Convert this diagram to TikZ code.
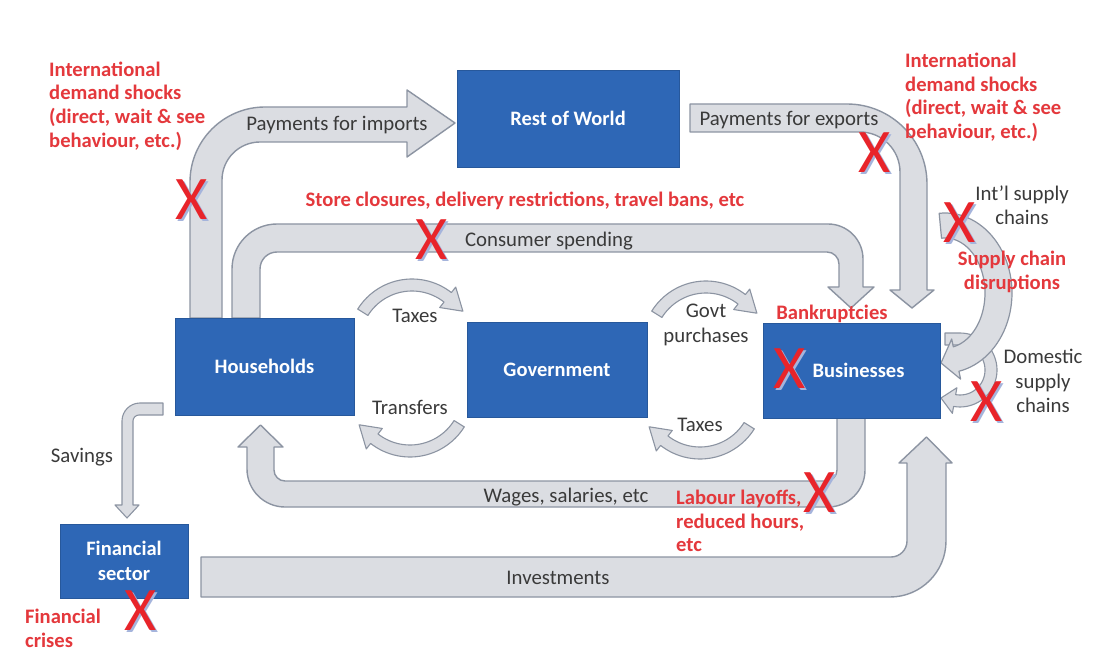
\documentclass[tikz,border=0pt]{standalone}
\usepackage{fontspec}
\setmainfont{Carlito}
\definecolor{boxblue}{RGB}{46,103,182}
\definecolor{flowfill}{RGB}{219,221,226}
\definecolor{flowline}{RGB}{140,148,162}
\definecolor{xred}{RGB}{232,36,42}
\definecolor{labred}{RGB}{228,56,60}
\definecolor{labgrey}{RGB}{58,58,58}
\definecolor{xshadow}{RGB}{165,180,220}
\tikzset{
  sector/.style={fill=boxblue, draw=boxblue!85!black, line width=0.6pt, text=white,
    font=\fontsize{20.5}{24.5}\selectfont\bfseries, align=center, inner sep=0pt},
  flow/.style={fill=flowfill, draw=flowline, line width=1.4pt, line join=round},
  lab/.style={text=labgrey, font=\fontsize{20.8}{24.5}\selectfont, align=center, inner sep=0pt},
  shock/.style={text=labred, font=\fontsize{20.6}{23.6}\selectfont\bfseries, align=left, inner sep=0pt},
  xmark/.style={text=xred, font=\fontsize{62}{62}\selectfont, inner sep=0pt},
  xmarkshadow/.style={text=xshadow, font=\fontsize{62}{62}\selectfont, inner sep=0pt},
}
\newcommand{\flowarc}[5]{%
  \draw[flow, line width=1.1pt]
    plot[domain=#3:#4,samples=30] ({#1+64*cos(\x)},{#2+64*sin(\x)})
    -- ({#1+71*cos(#4)},{#2+71*sin(#4)})
    -- ({#1+60*cos(#5)},{#2+60*sin(#5)})
    -- ({#1+45*cos(#4)},{#2+45*sin(#4)})
    -- plot[domain=#4:#3,samples=30] ({#1+52*cos(\x)},{#2+52*sin(\x)}) -- cycle;}
\newcommand{\cross}[3]{%
  \node[xmarkshadow] (#1s) at (#2+1.6,#3+1.6) {X};
  \node[xmark] (#1) at (#2,#3) {X};}
\begin{document}
\begin{tikzpicture}[x=1pt,y=-1pt]
\useasboundingbox (0,0) rectangle (1108,660);
\fill[white] (0,0) rectangle (1108,660);

% ---------- block flows ----------
% payments for imports
\draw[flow] (190,318) -- (190,182) .. controls (190,140.6) and (223.6,107) .. (265,107)
  -- (407,107) -- (407,90) -- (455,123) -- (407,157) -- (407,142) -- (260,142)
  .. controls (239,142) and (222,159) .. (222,180) -- (222,318) -- cycle;
% consumer spending
\draw[flow] (232,318) -- (232,269) .. controls (232,244.1) and (252.1,224) .. (277,224)
  -- (828,224) .. controls (847.3,224) and (863,239.7) .. (863,259) -- (863,287)
  -- (874,287) -- (851,308) -- (828,287) -- (839,287) -- (839,264)
  .. controls (839,257.4) and (833.6,252) .. (827,252) -- (277,252)
  .. controls (267.6,252) and (260,259.6) .. (260,269) -- (260,318) -- cycle;
% payments for exports
\draw[flow] (690,104) -- (847,104) .. controls (891.2,104) and (927,139.8) .. (927,184)
  -- (927,290) -- (934,290) -- (912,308) -- (890,290) -- (900,290) -- (900,172)
  .. controls (900,149.9) and (882.1,132) .. (860,132) -- (690,132) -- cycle;
% wages
\draw[flow] (865,418) -- (865,470) .. controls (865,490.4) and (848.4,507) .. (828,507)
  -- (285,507) .. controls (264,507) and (247,490) .. (247,469) -- (247,447)
  -- (238,447) -- (260.5,425) -- (283,447) -- (274,447) -- (274,470)
  .. controls (274,476.1) and (278.9,481) .. (285,481) -- (826,481)
  .. controls (832.1,481) and (837,476.1) .. (837,470) -- (837,418) -- cycle;
% investments
\draw[flow] (201,557) -- (201,597) -- (890,597) .. controls (920.9,597) and (946,571.9) .. (946,541)
  -- (946,463) -- (952,463) -- (926.5,437) -- (899,463) -- (907,463) -- (907,541)
  .. controls (907,549.8) and (899.8,557) .. (891,557) -- cycle;
% savings
\draw[flow, line width=1.1pt] (163,403) -- (140,403) .. controls (130.1,403) and (122,411.1) .. (122,421)
  -- (122,505) -- (115,505) -- (127,518) -- (139,505) -- (133,505) -- (133,421)
  .. controls (133,417.7) and (135.7,415) .. (139,415) -- (163,415) -- cycle;
% domestic supply chains
\draw[flow, line width=1.1pt] (945,333) -- plot[domain=-90:100,samples=40] ({960+37*cos(\x)},{370+37*sin(\x)})
  -- ({960+44*cos(100)},{370+44*sin(100)}) -- (941,398) -- ({960+18*cos(100)},{370+18*sin(100)})
  -- plot[domain=100:-90,samples=40] ({960+25*cos(\x)},{370+25*sin(\x)}) -- (945,345) -- cycle;
% international supply chains
\draw[flow, line width=1.2pt] plot[domain=-95:78,samples=50] ({945+67*cos(\x)},{293+80*sin(\x)})
  -- (960.6,379.1) -- (941,363) -- (951.7,339)
  -- plot[domain=78:-95,samples=50] ({945+40*cos(\x)},{293+55*sin(\x)}) -- cycle;
% government circular flows
\flowarc{412}{343}{212}{308}{328}
\flowarc{706}{345}{212}{308}{328}
\flowarc{410}{393}{32}{128}{148}
\flowarc{700}{395}{32}{128}{148}

% ---------- sectors ----------
\node[sector, minimum width=222pt, minimum height=97pt] (row) at (568,118.5) {Rest of World};
\node[sector, minimum width=179pt, minimum height=97pt] (hh) at (264.5,366.5) {Households};
\node[sector, minimum width=180pt, minimum height=95pt] (gov) at (557,369.5) {Government};
\node[sector, minimum width=177pt, minimum height=95pt] (bus) at (851.5,370.5) {\hspace*{14pt}Businesses};
\node[sector, minimum width=128pt, minimum height=74pt] (fin) at (124,561) {Financial\\sector};

% ---------- flow labels ----------
\node[lab] (limp) at (337,125) {Payments for imports};
\node[lab] (lexp) at (789,120) {Payments for exports};
\node[lab] (lcons) at (549,241) {Consumer spending};
\node[lab] (lintl) at (1022,205) {Int’l supply\\chains};
\node[lab] (ltax1) at (415,316) {Taxes};
\node[lab] (lgovp) at (706,325) {Govt\\purchases};
\node[lab] (ldom) at (1043,381) {Domestic\\supply\\chains};
\node[lab] (ltrans) at (410,407) {Transfers};
\node[lab] (ltax2) at (700,425) {Taxes};
\node[lab] (lsav) at (82,457) {Savings};
\node[lab] (lwage) at (566,497) {Wages, salaries, etc};
\node[lab] (linv) at (558,578) {Investments};

% ---------- shocks ----------
\node[shock, anchor=west] (sh1) at (49,106) {International\\demand shocks\\(direct, wait \& see\\behaviour, etc.)};
\node[shock, anchor=west] (sh2) at (905,97.5) {International\\demand shocks\\(direct, wait \& see\\behaviour, etc.)};
\node[shock, align=center] (sh3) at (525,201) {Store closures, delivery restrictions, travel bans, etc};
\node[shock, align=center] (sh4) at (1012,272) {Supply chain\\disruptions};
\node[shock, align=center] (sh5) at (832,314) {Bankruptcies};
\node[shock, anchor=west] (sh6) at (676,521) {Labour layoffs,\\reduced hours,\\etc};
\node[shock, anchor=west] (sh7) at (25,628.5) {Financial\\crises};

% ---------- crosses ----------
\cross{x1}{192}{200}
\cross{x2}{432}{240}
\cross{x3}{875}{153}
\cross{x4}{960}{223}
\cross{x5}{790}{369}
\cross{x6}{987}{402}
\cross{x7}{820}{493}
\cross{x8}{141}{611}
\end{tikzpicture}
\end{document}
